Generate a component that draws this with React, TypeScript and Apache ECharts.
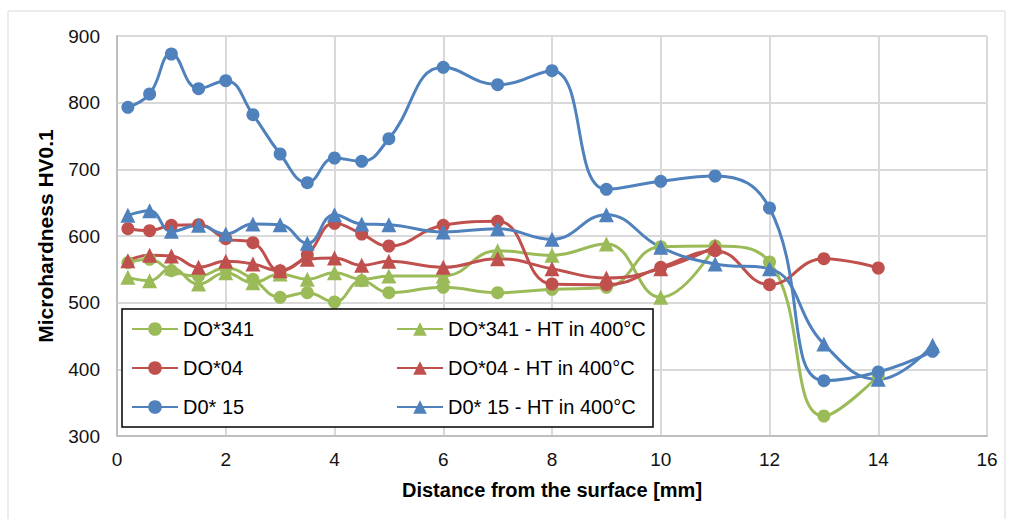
import React, { useEffect, useRef } from "react";
import * as echarts from "echarts";

const xFull = [0.2, 0.6, 1, 1.5, 2, 2.5, 3, 3.5, 4, 4.5, 5, 6, 7, 8, 9, 10, 11, 12, 13, 14, 15];
const xTo14 = [0.2, 0.6, 1, 1.5, 2, 2.5, 3, 3.5, 4, 4.5, 5, 6, 7, 8, 9, 10, 11, 12, 13, 14];
const xTo11 = [0.2, 0.6, 1, 1.5, 2, 2.5, 3, 3.5, 4, 4.5, 5, 6, 7, 8, 9, 10, 11];

const do341 = [560, 565, 548, 540, 552, 535, 508, 515, 501, 533, 515, 523, 515, 520, 523, 584, 585, 561, 330, 390];
const do341HT = [538, 533, 552, 528, 545, 530, 543, 535, 545, 535, 540, 540, 578, 571, 588, 508, 585];
const do04 = [611, 608, 616, 617, 596, 590, 548, 572, 619, 603, 585, 616, 622, 528, 527, 553, 578, 527, 566, 552];
const do04HT = [563, 571, 570, 553, 562, 558, 548, 565, 567, 556, 562, 553, 566, 551, 537, 551, 584];
const d015 = [793, 813, 873, 821, 833, 782, 723, 680, 717, 712, 746, 853, 827, 848, 670, 682, 690, 642, 383, 396, 427];
const d015HT = [631, 638, 607, 616, 603, 618, 617, 589, 632, 618, 617, 606, 611, 595, 632, 583, 558, 551, 438, 385, 436];

const seriesNames = [
  "DO*341",
  "DO*341 - HT in 400°C",
  "DO*04",
  "DO*04 - HT in 400°C",
  "D0* 15",
  "D0* 15 - HT in 400°C",
];

const GREEN = "#9BBB59";
const RED = "#C0504D";
const BLUE = "#4F81BD";

const pair = (xs: number[], ys: number[]) => ys.map((y, i) => [xs[i], y]);

export default function App() {
  const ref = useRef<HTMLDivElement>(null);
  useEffect(() => {
    if (!ref.current) return;
    const chart = echarts.init(ref.current, null, { renderer: "svg" });
    const font = "'Liberation Sans', Arial, sans-serif";
    const mk = (name: string, xs: number[], ys: number[], color: string, tri: boolean) => ({
      name,
      type: "line",
      data: pair(xs, ys),
      smooth: 0.45,
      symbol: tri ? "triangle" : "circle",
      symbolSize: tri ? 15 : 13,
      lineStyle: { color, width: 3 },
      itemStyle: { color, borderColor: color, borderWidth: 0 },
      emphasis: { disabled: true },
    });
    const legendRows = [329, 368, 407];
    const legends = seriesNames.map((n, i) => ({
      data: [n],
      left: i % 2 === 0 ? 131 : 396,
      top: legendRows[Math.floor(i / 2)] - 10,
      orient: "horizontal",
      itemWidth: 46,
      itemHeight: 17,
      padding: 0,
      z: 20,
      selectedMode: false,
      textStyle: { fontSize: 20, color: "#000", fontFamily: font },
    }));
    chart.setOption({
      animation: false,
      backgroundColor: "#fff",
      textStyle: { fontFamily: font },
      grid: { left: 117, right: 23, top: 36, bottom: 83, containLabel: false },
      xAxis: {
        type: "value",
        min: 0,
        max: 16,
        interval: 2,
        name: "Distance from the surface [mm]",
        nameLocation: "middle",
        nameGap: 44,
        nameTextStyle: { fontSize: 20, fontWeight: "bold", color: "#000", fontFamily: font },
        axisLine: { show: true, lineStyle: { color: "#bfbfbf", width: 2 } },
        axisTick: { show: false },
        axisLabel: { fontSize: 19, color: "#111", margin: 14, fontFamily: font },
        splitLine: { show: true, lineStyle: { color: "#d9d9d9", width: 2 } },
      },
      yAxis: {
        type: "value",
        min: 300,
        max: 900,
        interval: 100,
        name: "Microhardness HV0.1",
        nameLocation: "middle",
        nameGap: 61,
        nameRotate: 90,
        nameTextStyle: { fontSize: 21, fontWeight: "bold", color: "#000", fontFamily: font },
        axisLine: { show: true, lineStyle: { color: "#bfbfbf", width: 2 } },
        axisTick: { show: false },
        axisLabel: { fontSize: 19, color: "#111", margin: 17, fontFamily: font },
        splitLine: { show: true, lineStyle: { color: "#d9d9d9", width: 2 } },
      },
      legend: legends,
      graphic: [
        {
          type: "rect",
          shape: { x: 8, y: 11, width: 997, height: 530 },
          style: { fill: "none", stroke: "#d9d9d9", lineWidth: 1 },
          z: 0,
          silent: true,
        },
        {
          type: "rect",
          shape: { x: 122, y: 309, width: 531, height: 118 },
          style: { fill: "#fff", stroke: "#000", lineWidth: 1.5 },
          z: 10,
          silent: true,
        },
      ],
      series: [
        mk(seriesNames[0], xTo14, do341, GREEN, false),
        mk(seriesNames[1], xTo11, do341HT, GREEN, true),
        mk(seriesNames[2], xTo14, do04, RED, false),
        mk(seriesNames[3], xTo11, do04HT, RED, true),
        mk(seriesNames[4], xFull, d015, BLUE, false),
        mk(seriesNames[5], xFull, d015HT, BLUE, true),
      ],
    });
    return () => chart.dispose();
  }, []);
  return (
    <div
      ref={ref}
      style={{ position: "fixed", left: 0, top: 0, width: 1010, height: 519 }}
    />
  );
}
